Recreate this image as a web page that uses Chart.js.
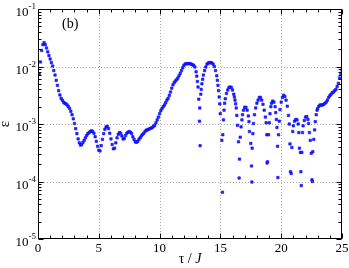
<!DOCTYPE html>
<html>
<head>
<meta charset="utf-8">
<script src="https://cdn.jsdelivr.net/npm/chart.js@4.4.0/dist/chart.umd.min.js"></script>
<style>
  html, body { margin: 0; padding: 0; background: #fff; }
  #wrap { width: 349px; height: 268px; }
</style>
</head>
<body>
<div id="wrap"><canvas id="chart" width="349" height="268"></canvas></div>
<script>
// === Data ===
const tau = [
  0.1, 0.2, 0.3, 0.4, 0.5, 0.6, 0.7, 0.8, 0.9, 1.0,
  1.1, 1.2, 1.3, 1.4, 1.5, 1.6, 1.7, 1.8, 1.9, 2.0,
  2.1, 2.2, 2.3, 2.4, 2.5, 2.6, 2.7, 2.8, 2.9, 3.0,
  3.1, 3.2, 3.3, 3.4, 3.5, 3.6, 3.7, 3.8, 3.9, 4.0,
  4.1, 4.2, 4.3, 4.4, 4.5, 4.6, 4.7, 4.8, 4.9, 5.0,
  5.1, 5.2, 5.3, 5.4, 5.5, 5.6, 5.7, 5.8, 5.9, 6.0,
  6.1, 6.2, 6.3, 6.4, 6.5, 6.6, 6.7, 6.8, 6.9, 7.0,
  7.1, 7.2, 7.3, 7.4, 7.5, 7.6, 7.7, 7.8, 7.9, 8.0,
  8.1, 8.2, 8.3, 8.4, 8.5, 8.6, 8.7, 8.8, 8.9, 9.0,
  9.1, 9.2, 9.3, 9.4, 9.5, 9.6, 9.7, 9.8, 9.9, 10.0,
  10.1, 10.2, 10.3, 10.4, 10.5, 10.6, 10.7, 10.8, 10.9, 11.0,
  11.1, 11.2, 11.3, 11.4, 11.5, 11.6, 11.7, 11.8, 11.9, 12.0,
  12.1, 12.2, 12.3, 12.4, 12.5, 12.6, 12.7, 12.8, 12.9,
  13.0, 13.06, 13.11, 13.16, 13.22, 13.28, 13.30, 13.33, 13.39, 13.42,
  13.48, 13.54, 13.6, 13.7, 13.8, 13.9, 14.0, 14.1, 14.2, 14.3,
  14.4, 14.5, 14.6, 14.7, 14.75, 14.8, 14.85, 14.9, 14.95, 14.99,
  15.12, 15.17, 15.2, 15.25, 15.3, 15.35, 15.4, 15.5, 15.6, 15.7,
  15.8, 15.9, 16.0, 16.1, 16.15, 16.2, 16.25, 16.3, 16.35, 16.4,
  16.49, 16.54, 16.57, 16.63, 16.7, 16.77, 16.82, 16.9, 17.0, 17.1,
  17.2, 17.3, 17.35, 17.39, 17.5, 17.56, 17.59, 17.61, 17.67, 17.72,
  17.8, 17.9, 18.0, 18.1, 18.2, 18.3, 18.4, 18.5, 18.6, 18.7,
  18.76, 18.82, 18.84, 18.87, 18.96, 19.02, 19.08, 19.15, 19.2, 19.3,
  19.4, 19.5, 19.55, 19.6, 19.65, 19.7, 19.73, 19.78, 19.84, 19.9,
  20.0, 20.1, 20.2, 20.3, 20.4, 20.5, 20.6, 20.66, 20.72, 20.76,
  20.82, 20.88, 20.95, 21.0, 21.1, 21.2, 21.3, 21.4, 21.45, 21.5,
  21.58, 21.62, 21.65, 21.7, 21.75, 21.8, 21.9, 22.0, 22.1, 22.2,
  22.25, 22.32, 22.39, 22.47, 22.53, 22.56, 22.6, 22.68, 22.75, 22.8,
  22.88, 22.95, 23.0, 23.1, 23.2, 23.3, 23.4, 23.5, 23.6, 23.7,
  23.8, 23.9, 24.0, 24.1, 24.2, 24.3, 24.4, 24.5, 24.6, 24.7,
  24.8, 24.9, 25.0
];

const eps = [
  7.4e-3, 1.2e-2, 1.9e-2, 2.4e-2, 2.6e-2, 2.4e-2, 2.1e-2, 1.8e-2, 1.55e-2, 1.35e-2,
  1.17e-2, 1.02e-2, 8.5e-3, 7.1e-3, 5.75e-3, 4.7e-3, 3.8e-3, 3.2e-3, 2.8e-3, 2.6e-3,
  2.4e-3, 2.3e-3, 2.24e-3, 2.14e-3, 2.0e-3, 1.86e-3, 1.66e-3, 1.45e-3, 1.23e-3, 1.02e-3,
  8.3e-4, 6.8e-4, 5.5e-4, 4.7e-4, 4.3e-4, 4.4e-4, 4.8e-4, 5.2e-4, 5.75e-4, 6.3e-4,
  6.8e-4, 7.1e-4, 7.4e-4, 7.6e-4, 7.4e-4, 6.9e-4, 6.0e-4, 5.0e-4, 4.1e-4, 3.5e-4,
  3.4e-4, 4.2e-4, 5.4e-4, 6.8e-4, 8.1e-4, 8.9e-4, 9.1e-4, 8.3e-4, 6.9e-4, 5.5e-4,
  4.4e-4, 3.7e-4, 3.8e-4, 4.7e-4, 5.75e-4, 6.6e-4, 7.1e-4, 6.9e-4, 6.2e-4, 5.5e-4,
  5.6e-4, 6.3e-4, 6.9e-4, 7.2e-4, 7.4e-4, 7.2e-4, 6.8e-4, 6.0e-4, 5.4e-4, 4.9e-4,
  4.8e-4, 5.0e-4, 5.4e-4, 5.75e-4, 6.2e-4, 6.6e-4, 6.9e-4, 7.4e-4, 7.8e-4, 7.9e-4,
  8.1e-4, 8.3e-4, 8.5e-4, 8.7e-4, 9.1e-4, 9.5e-4, 1.05e-3, 1.18e-3, 1.32e-3, 1.51e-3,
  1.70e-3, 1.86e-3, 2.0e-3, 2.14e-3, 2.34e-3, 2.6e-3, 2.8e-3, 3.16e-3, 3.6e-3, 4.2e-3,
  4.8e-3, 5.25e-3, 5.6e-3, 5.9e-3, 6.3e-3, 6.9e-3, 7.6e-3, 8.5e-3, 9.5e-3, 1.05e-2,
  1.10e-2, 1.12e-2, 1.12e-2, 1.12e-2, 1.12e-2, 1.10e-2, 1.07e-2, 1.05e-2, 9.8e-3,
  8.1e-3, 6.8e-3, 5.5e-3, 4.4e-3, 2.7e-3, 1.12e-3, 1.9e-3, 4.2e-4, 3.3e-3, 4.0e-3,
  5.0e-3, 6.0e-3, 7.1e-3, 8.5e-3, 9.8e-3, 1.10e-2, 1.15e-2, 1.17e-2, 1.17e-2, 1.15e-2,
  1.10e-2, 1.0e-2, 8.5e-3, 6.9e-3, 5.75e-3, 4.7e-3, 3.8e-3, 2.95e-3, 2.24e-3, 1.51e-3,
  5.2e-4, 6.5e-5, 6.5e-4, 1.18e-3, 1.74e-3, 2.3e-3, 2.75e-3, 3.4e-3, 3.9e-3, 4.3e-3,
  4.4e-3, 4.3e-3, 3.9e-3, 3.3e-3, 2.95e-3, 2.6e-3, 2.24e-3, 1.9e-3, 1.41e-3, 9.5e-4,
  4.9e-4, 1.15e-4, 2.45e-4, 5.9e-4, 8.9e-4, 1.18e-3, 1.45e-3, 1.74e-3, 1.95e-3, 1.95e-3,
  1.74e-3, 1.38e-3, 1.10e-3, 7.4e-4, 4.6e-4, 1.86e-4, 9.8e-5, 3.8e-4, 6.8e-4, 1.02e-3,
  1.45e-3, 1.9e-3, 2.3e-3, 2.6e-3, 2.9e-3, 2.9e-3, 2.6e-3, 2.2e-3, 1.74e-3, 1.32e-3,
  1.05e-3, 6.5e-4, 2.1e-4, 2.2e-4, 6.5e-4, 1.05e-3, 1.51e-3, 2.0e-3, 2.3e-3, 2.5e-3,
  2.4e-3, 2.0e-3, 1.58e-3, 1.2e-3, 8.7e-4, 4.1e-4, 1.17e-4, 6.5e-4, 1.12e-3, 1.78e-3,
  2.4e-3, 2.9e-3, 3.16e-3, 3.0e-3, 2.6e-3, 2.04e-3, 1.41e-3, 1.0e-3, 4.5e-4, 1.48e-4,
  1.38e-4, 3.9e-4, 7.4e-4, 9.3e-4, 1.12e-3, 1.2e-3, 1.18e-3, 1.0e-3, 7.1e-4, 3.8e-4,
  3.2e-4, 1.48e-4, 8.5e-5, 3.2e-4, 7.1e-4, 9.3e-4, 1.15e-3, 1.32e-3, 1.35e-3, 1.2e-3,
  1.02e-3, 7.1e-4, 5.2e-4, 3.1e-4, 1.07e-4, 1.0e-4, 3.3e-4, 5.4e-4, 7.9e-4, 1.10e-3,
  1.45e-3, 1.74e-3, 1.86e-3, 2.04e-3, 2.14e-3, 2.14e-3, 2.14e-3, 2.2e-3, 2.3e-3, 2.4e-3,
  2.6e-3, 2.9e-3, 3.1e-3, 3.3e-3, 3.5e-3, 3.6e-3, 3.8e-3, 4.0e-3, 4.5e-3, 5.1e-3,
  6.3e-3, 7.6e-3, 8.7e-3
];

const xTicks = [0, 5, 10, 15, 20, 25];
const yTicks = [1e-5, 1e-4, 1e-3, 1e-2, 1e-1];
const yTickExps = ['-5', '-4', '-3', '-2', '-1'];
const panelLabel = '(b)';

const SERIF = '"Liberation Serif", "Times New Roman", serif';

// === Axes, grid, ticks and labels drawn by hand ===
const axesPlugin = {
  id: 'axesPlugin',
  beforeDatasetsDraw(chart) {
    const { ctx, chartArea: a, scales: { x, y } } = chart;
    ctx.save();
    ctx.strokeStyle = '#a8a8a8';
    ctx.lineWidth = 1;
    ctx.setLineDash([1, 2]);
    xTicks.slice(1, -1).forEach(v => {
      const px = Math.round(x.getPixelForValue(v)) + 0.5;
      ctx.beginPath(); ctx.moveTo(px, a.top); ctx.lineTo(px, a.bottom); ctx.stroke();
    });
    yTicks.slice(1, -1).forEach(v => {
      const py = Math.round(y.getPixelForValue(v)) + 0.5;
      ctx.beginPath(); ctx.moveTo(a.left, py); ctx.lineTo(a.right, py); ctx.stroke();
    });
    ctx.restore();
  },
  afterDatasetsDraw(chart) {
    const { ctx, chartArea: a, scales: { x, y } } = chart;
    ctx.save();
    ctx.strokeStyle = '#000';
    ctx.lineWidth = 1;
    ctx.setLineDash([]);
    const L = Math.round(a.left) + 0.5, R = Math.round(a.right) - 0.5;
    const T = Math.round(a.top) + 0.5, B = Math.round(a.bottom) - 0.5;
    ctx.strokeRect(L, T, R - L, B - T);

    // x ticks, top and bottom, pointing inward
    for (let v = 0; v <= 25; v++) {
      const px = Math.round(x.getPixelForValue(v)) + 0.5;
      const len = v % 5 === 0 ? 5 : 3;
      ctx.beginPath();
      ctx.moveTo(px, B); ctx.lineTo(px, B - len);
      ctx.moveTo(px, T); ctx.lineTo(px, T + len);
      ctx.stroke();
    }
    // y ticks, left and right
    for (let e = -5; e <= -1; e++) {
      for (let k = 1; k <= 9; k++) {
        const v = k * Math.pow(10, e);
        if (v > 0.1 + 1e-9) break;
        const py = Math.round(y.getPixelForValue(v)) + 0.5;
        const len = k === 1 ? 5 : 3;
        ctx.beginPath();
        ctx.moveTo(L, py); ctx.lineTo(L + len, py);
        ctx.moveTo(R, py); ctx.lineTo(R - len, py);
        ctx.stroke();
      }
    }

    ctx.fillStyle = '#000';
    // x tick labels
    ctx.font = '13px ' + SERIF;
    ctx.textAlign = 'center';
    ctx.textBaseline = 'alphabetic';
    xTicks.forEach(v => {
      ctx.fillText(String(v), x.getPixelForValue(v), 252);
    });

    // y tick labels 10^n
    yTicks.forEach((v, i) => {
      const py = y.getPixelForValue(v);
      ctx.font = '9px ' + SERIF;
      ctx.textAlign = 'right';
      const ew = ctx.measureText(yTickExps[i]).width;
      ctx.fillText(yTickExps[i], 36, py + 0);
      ctx.font = '13px ' + SERIF;
      ctx.fillText('10', 36 - ew, py + 7);
    });

    // x title: tau / J
    const p1 = '\u03c4 / ';
    ctx.font = 'italic 14px ' + SERIF;
    const wJ = ctx.measureText('J').width;
    ctx.font = '14px ' + SERIF;
    const w1 = ctx.measureText(p1).width;
    const cx = (a.left + a.right) / 2;
    const x0 = cx - (w1 + wJ) / 2;
    ctx.textAlign = 'left';
    ctx.fillText(p1, x0, 263);
    ctx.font = 'italic 14px ' + SERIF;
    ctx.fillText('J', x0 + w1, 263);

    // y title: epsilon, rotated
    ctx.save();
    ctx.translate(9, (a.top + a.bottom) / 2);
    ctx.rotate(-Math.PI / 2);
    ctx.textAlign = 'center';
    ctx.font = '15px ' + SERIF;
    ctx.fillText('\u03b5', 0, 0);
    ctx.restore();

    // panel label
    ctx.font = '14px ' + SERIF;
    ctx.textAlign = 'left';
    ctx.fillText(panelLabel, 62, 28);
    ctx.restore();
  }
};

const points = tau.map((t, i) => ({ x: t, y: eps[i] }));

new Chart(document.getElementById('chart'), {
  type: 'scatter',
  data: {
    datasets: [{
      data: points,
      pointStyle: 'rect',
      pointRadius: 1.7,
      borderWidth: 0.6,
      borderColor: '#0000ff',
      backgroundColor: '#2626ff'
    }]
  },
  options: {
    responsive: false,
    animation: false,
    events: [],
    layout: { padding: { top: 9, right: 7, left: 0, bottom: 0 } },
    plugins: { legend: { display: false }, tooltip: { enabled: false } },
    scales: {
      x: {
        type: 'linear', min: 0, max: 25,
        grid: { display: false }, border: { display: false },
        ticks: { display: false },
        afterFit: s => { s.height = 29; }
      },
      y: {
        type: 'logarithmic', min: 1e-5, max: 1e-1,
        grid: { display: false }, border: { display: false },
        ticks: { display: false },
        afterFit: s => { s.width = 38; }
      }
    }
  },
  plugins: [axesPlugin]
});
</script>
</body>
</html>
